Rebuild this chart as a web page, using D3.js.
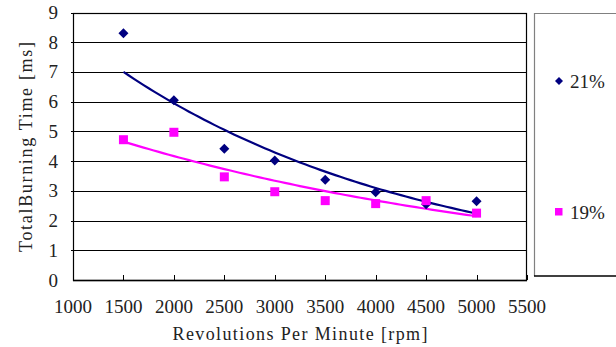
<!DOCTYPE html>
<html><head><meta charset="utf-8">
<script src="https://cdn.jsdelivr.net/npm/d3@7"></script>
<style>
html,body{margin:0;padding:0;background:#fff;}
svg{display:block;}
</style></head>
<body>
<svg id="chart" width="616" height="347" font-family="'Liberation Serif', 'Times New Roman', Times, serif"></svg>
<script>
const rpm = [1500, 2000, 2500, 3000, 3500, 4000, 4500, 5000];
const series21 = [8.3, 6.05, 4.42, 4.02, 3.37, 2.95, 2.55, 2.65];
const series19 = [4.72, 4.97, 3.47, 2.97, 2.67, 2.57, 2.67, 2.25];
const seriesNames = ["21%", "19%"];
const seriesColors = ["#000080", "#FF00FF"];
const xTicks = [1000, 1500, 2000, 2500, 3000, 3500, 4000, 4500, 5000, 5500];
const yTicks = [0, 1, 2, 3, 4, 5, 6, 7, 8, 9];
const xTitle = "Revolutions Per Minute [rpm]";
const yTitle = "TotalBurning Time [ms]";

const svg = d3.select("#chart");
const m = {left: 73, right: 527, top: 12.5, bottom: 280};
const x = d3.scaleLinear().domain([1000, 5500]).range([m.left, m.right]);
const y = d3.scaleLinear().domain([0, 9]).range([m.bottom, m.top]);

// gridlines
svg.append("g").selectAll("line").data(yTicks.filter(d => d > 0)).join("line")
  .attr("x1", m.left - 2).attr("x2", m.right)
  .attr("y1", d => Math.round(y(d)) + 0.5).attr("y2", d => Math.round(y(d)) + 0.5)
  .attr("stroke", "#000").attr("stroke-width", 1);

// plot border
svg.append("rect").attr("x", m.left + 0.5).attr("y", Math.round(m.top) + 0.5)
  .attr("width", m.right - m.left - 1).attr("height", m.bottom - Math.round(m.top))
  .attr("fill", "none").attr("stroke", "#000").attr("stroke-width", 1.2);

// x axis ticks (inward)
svg.append("g").selectAll("line").data(xTicks).join("line")
  .attr("x1", d => Math.round(x(d)) + 0.5).attr("x2", d => Math.round(x(d)) + 0.5)
  .attr("y1", m.bottom).attr("y2", m.bottom - 5)
  .attr("stroke", "#000").attr("stroke-width", 1);
svg.append("line").attr("x1", m.left).attr("x2", m.right).attr("y1", m.bottom + 0.5).attr("y2", m.bottom + 0.5)
  .attr("stroke", "#000").attr("stroke-width", 1.5);

// tick labels
svg.append("g").selectAll("text").data(xTicks).join("text")
  .attr("x", d => x(d)).attr("y", 313).attr("text-anchor", "middle")
  .attr("font-size", 19).attr("fill", "#222").text(d => d);
svg.append("g").selectAll("text").data(yTicks).join("text")
  .attr("x", 58).attr("y", d => y(d) + 6.5).attr("text-anchor", "end")
  .attr("font-size", 19).attr("fill", "#222").text(d => d);

// titles
svg.append("text").attr("x", 300).attr("y", 340).attr("text-anchor", "middle").attr("fill", "#222")
  .attr("font-size", 18).attr("textLength", 255).attr("lengthAdjust", "spacing").text(xTitle);
svg.append("text").attr("transform", "translate(32,147) rotate(-90)").attr("text-anchor", "middle").attr("fill", "#222")
  .attr("font-size", 18).attr("textLength", 210).attr("lengthAdjust", "spacing").text(yTitle);

// exponential trend (least squares on ln y, as a spreadsheet trendline does)
function expFit(xs, ys) {
  const ly = ys.map(Math.log);
  const mx = d3.mean(xs), my = d3.mean(ly);
  let sxy = 0, sxx = 0;
  xs.forEach((v, i) => { sxy += (v - mx) * (ly[i] - my); sxx += (v - mx) * (v - mx); });
  const b = sxy / sxx, a = my - b * mx;
  return v => Math.exp(a + b * v);
}
const allSeries = [series21, series19];
allSeries.forEach((vals, si) => {
  const f = expFit(rpm, vals);
  const pts = d3.range(rpm[0], rpm[rpm.length - 1] + 1, 50).map(v => [v, f(v)]);
  svg.append("path").datum(pts)
    .attr("d", d3.line().x(d => x(d[0])).y(d => y(d[1])))
    .attr("fill", "none").attr("stroke", seriesColors[si]).attr("stroke-width", 2.2);
});

// markers
function diamondPath(cx, cy, r) {
  return `M${cx},${cy - r}L${cx + r},${cy}L${cx},${cy + r}L${cx - r},${cy}Z`;
}
svg.append("g").selectAll("path").data(rpm.map((v, i) => [v, series21[i]])).join("path")
  .attr("d", d => diamondPath(x(d[0]), y(d[1]), 5)).attr("fill", seriesColors[0]);
svg.append("g").selectAll("rect").data(rpm.map((v, i) => [v, series19[i]])).join("rect")
  .attr("x", d => x(d[0]) - 4.5).attr("y", d => y(d[1]) - 4.5).attr("width", 9).attr("height", 9)
  .attr("fill", seriesColors[1]);

// legend
const lg = svg.append("g");
lg.append("line").attr("x1", 534.5).attr("x2", 534.5).attr("y1", 13).attr("y2", 276).attr("stroke", "#808080").attr("stroke-width", 1.2);
lg.append("line").attr("x1", 534).attr("x2", 616).attr("y1", 13.5).attr("y2", 13.5).attr("stroke", "#808080").attr("stroke-width", 1);
lg.append("line").attr("x1", 534).attr("x2", 616).attr("y1", 276).attr("y2", 276).attr("stroke", "#000").attr("stroke-width", 1.5);
lg.append("path").attr("d", diamondPath(559, 81, 4)).attr("fill", seriesColors[0]);
lg.append("text").attr("x", 570).attr("y", 88).attr("font-size", 19).attr("fill", "#222").text(seriesNames[0]);
lg.append("rect").attr("x", 555).attr("y", 208).attr("width", 7.5).attr("height", 7.5).attr("fill", seriesColors[1]);
lg.append("text").attr("x", 570).attr("y", 219).attr("font-size", 19).attr("fill", "#222").text(seriesNames[1]);
</script>
</body></html>
